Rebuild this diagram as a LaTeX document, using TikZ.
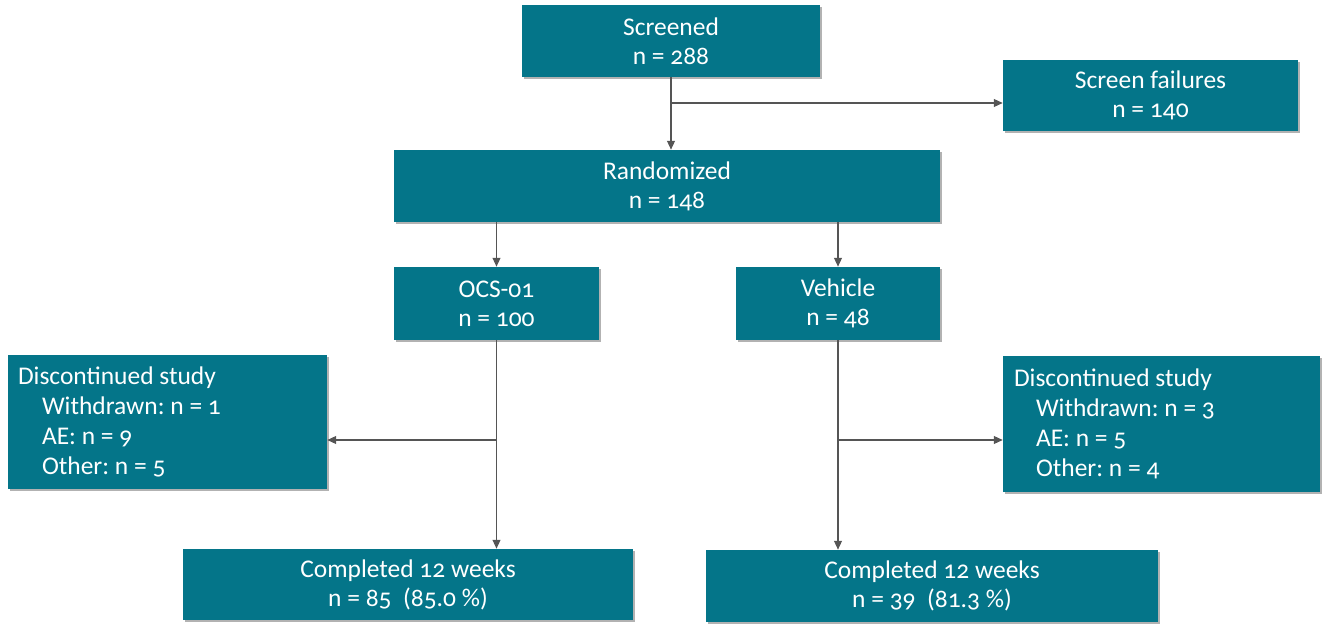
\documentclass[tikz,border=0pt]{standalone}
\usepackage{fontspec}
\setmainfont{Carlito}[Numbers=OldStyle]
\usetikzlibrary{arrows.meta,shadows}
\definecolor{boxteal}{RGB}{4,117,137}
\definecolor{linegray}{RGB}{85,85,85}
\newcommand{\plainspaces}{\spaceskip=0pt\xspaceskip=0pt\frenchspacing}
\tikzset{
  flowbox/.style={rectangle, fill=boxteal, text=white, inner sep=0pt, align=center,
    font=\fontsize{14.5}{16.5}\selectfont,
    drop shadow={shadow xshift=1.3pt, shadow yshift=-1.3pt, fill=black, opacity=0.3}},
  listbox/.style={flowbox, align=left, inner xsep=0.2cm, font=\fontsize{14.5}{17}\selectfont},
  arr/.style={draw=linegray, line width=0.6pt, -{Triangle[length=5pt,width=4.5pt]}}
}
\begin{document}
\begin{tikzpicture}[x=0.02cm,y=-0.02cm]
\useasboundingbox (0,0) rectangle (1323,625);
\node[flowbox, minimum width=5.96cm, minimum height=1.44cm] (scr) at (671,41) {Screened\\n = 288};
\node[flowbox, minimum width=5.9cm, minimum height=1.42cm] (fail) at (1150.5,95.5) {Screen failures\\n = 140};
\node[flowbox, minimum width=10.92cm, minimum height=1.44cm] (rand) at (667,186) {Randomized\\n = 148};
\node[flowbox, minimum width=4.1cm, minimum height=1.46cm] (ocs) at (496.5,303.5) {OCS-01\\n = 100};
\node[flowbox, minimum width=4.08cm, minimum height=1.46cm] (veh) at (838,303.5) {Vehicle\\n = 48};
\node[listbox, text width=5.98cm, minimum height=2.68cm] (discL) at (167.5,422) {\plainspaces Discontinued study\\\hspace*{0.48cm}Withdrawn: n = 1\\\hspace*{0.48cm}AE: n = 9\\\hspace*{0.48cm}Other: n = 5};
\node[listbox, text width=5.9cm, inner xsep=0.22cm, minimum height=2.72cm] (discR) at (1161.5,424) {\plainspaces Discontinued study\\\hspace*{0.44cm}Withdrawn: n = 3\\\hspace*{0.44cm}AE: n = 5\\\hspace*{0.44cm}Other: n = 4};
\node[flowbox, minimum width=9.0cm, minimum height=1.42cm] (compL) at (408,584.5) {Completed 12 weeks\\n = 85\ \ (85.0 \%)};
\node[flowbox, minimum width=9.04cm, minimum height=1.44cm] (compR) at (932,586) {Completed 12 weeks\\n = 39\ \ (81.3 \%)};
\coordinate (brS) at (671,103);
\coordinate (brL) at (496.5,440);
\coordinate (brR) at (838,440);
\draw[arr] (scr.south -| brS) -- (brS |- rand.north);
\draw[arr] (brS) -- (brS -| fail.west);
\draw[arr] (ocs.north |- rand.south) -- (ocs.north);
\draw[arr] (veh.north |- rand.south) -- (veh.north);
\draw[arr] (ocs.south) -- (ocs.south |- compL.north);
\draw[arr] (brL) -- (brL -| discL.east);
\draw[arr] (veh.south) -- (veh.south |- compR.north);
\draw[arr] (brR) -- (brR -| discR.west);
\end{tikzpicture}
\end{document}
